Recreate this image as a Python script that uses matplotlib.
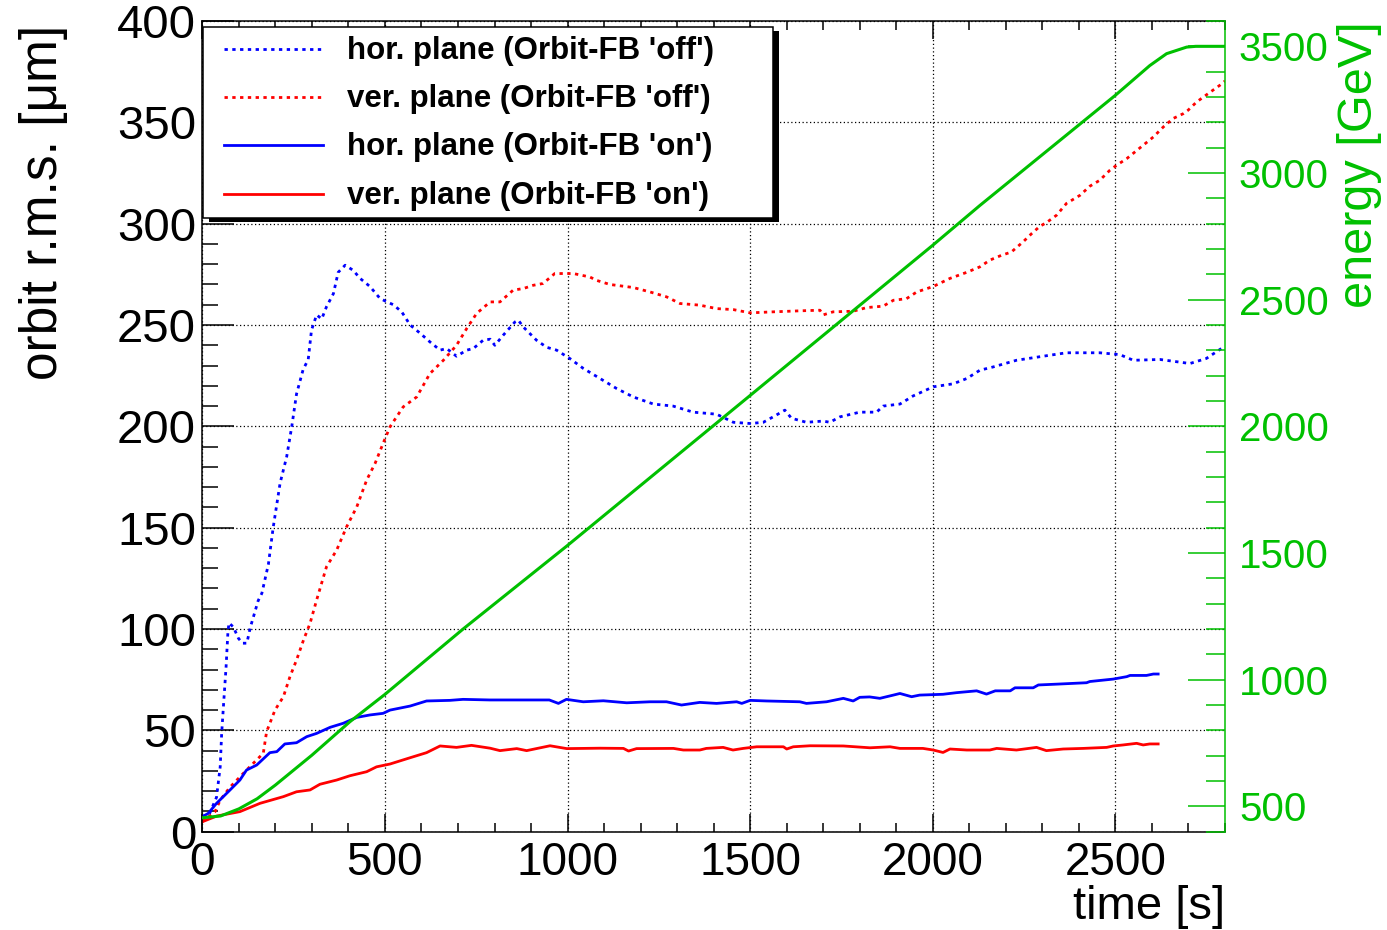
import matplotlib
matplotlib.use("Agg")
import matplotlib.pyplot as plt
from matplotlib.ticker import MultipleLocator
from matplotlib.patches import Rectangle
from matplotlib.lines import Line2D

plt.rcParams['font.family'] = ['Liberation Sans', 'DejaVu Sans']

# ---- data ----
# horizontal plane, orbit feedback off (dotted blue)
t_hor_off = [0, 20, 39, 49, 53, 59, 65, 70, 73, 85,
             99, 110, 122, 131, 153, 163, 181, 194, 213, 231,
             245, 258, 276, 290, 299, 313, 327, 340, 359, 372,
             391, 413, 432, 459, 487, 523, 546, 569, 596, 623,
             651, 669, 696, 724, 742, 769, 788, 801, 824, 856,
             865, 879, 915, 943, 970, 1006, 1043, 1089, 1134, 1180,
             1235, 1289, 1344, 1408, 1454, 1500, 1536, 1563, 1595, 1613,
             1654, 1700, 1718, 1746, 1800, 1846, 1864, 1910, 1946, 2001,
             2056, 2093, 2129, 2165, 2229, 2302, 2366, 2457, 2512, 2549,
             2622, 2704, 2749, 2800]
rms_hor_off = [7.5, 9, 17, 32, 48.5, 65, 81, 98, 103, 101,
               95.4, 93, 93, 100.5, 114, 117.6, 132, 150, 172, 185,
               200, 216, 228, 233, 247.5, 255, 253, 259, 265.5, 276,
               279.5, 277, 273, 269, 263, 260, 256.5, 250, 246, 241.7,
               237.6, 238.4, 234.6, 237.6, 238.4, 242.5, 243, 240, 245, 251.5,
               252.4, 249, 242.5, 239, 237.6, 233.5, 228.6, 223.6, 218.7, 214.5,
               211, 210, 207, 206, 202, 201.4, 202, 204.7, 208, 204,
               202, 202.6, 202, 204.7, 207, 207, 210, 211, 215, 219.5,
               221, 223.6, 227.7, 229.3, 232.6, 234.6, 236.3, 236.3, 235.4, 232.6,
               233, 231, 233.5, 239.6]

# vertical plane, orbit feedback off (dotted red)
t_ver_off = [0, 15, 35, 49, 76, 121, 167, 176, 199, 222,
             240, 258, 277, 295, 313, 340, 368, 395, 423, 450,
             473, 495, 514, 550, 587, 623, 660, 696, 724, 751,
             788, 815, 851, 879, 906, 933, 965, 1016, 1061, 1080,
             1116, 1180, 1226, 1271, 1308, 1362, 1408, 1454, 1500, 1563,
             1636, 1691, 1700, 1727, 1782, 1819, 1864, 1892, 1928, 1956,
             2001, 2047, 2093, 2129, 2156, 2188, 2215, 2247, 2270, 2293,
             2311, 2339, 2366, 2403, 2430, 2457, 2485, 2503, 2531, 2576,
             2604, 2631, 2658, 2686, 2699, 2722, 2754, 2786, 2800]
rms_ver_off = [5, 7, 9.9, 15.6, 22, 30.4, 38.7, 49.3, 60, 66.6,
               76.5, 84.7, 94.5, 102.8, 114.3, 130.7, 139, 150.4, 160.3, 173.5,
               181.7, 191.6, 199.8, 209.6, 214.5, 226, 232.6, 240, 248.3, 255.7,
               261.4, 261.4, 267.2, 268, 269.6, 270.5, 275.4, 275.4, 273.7, 272,
               270, 268.5, 266.3, 263.9, 260.6, 259.8, 258.1, 257.6, 256, 256.5,
               257, 257.3, 255, 256.5, 256.8, 258.6, 259.3, 262.2, 263, 266.3,
               269, 273, 276, 278.7, 282, 284.4, 286, 291, 295, 298.7,
               300.5, 304.2, 310, 314, 318.5, 321.4, 326.4, 328.8, 332.1, 338.7,
               342.8, 347.7, 351.9, 354.3, 356, 360, 364.2, 368.3, 370.4]

# horizontal plane, orbit feedback on (solid blue)
t_hor_on = [0, 16, 39, 76, 103, 121, 149, 185, 204, 226,
            258, 286, 313, 350, 386, 423, 459, 495, 514, 569,
            614, 678, 714, 787, 880, 950, 975, 997, 1043, 1098,
            1162, 1226, 1271, 1312, 1362, 1408, 1463, 1477, 1500, 1545,
            1636, 1654, 1709, 1755, 1782, 1800, 1827, 1855, 1892, 1910,
            1942, 1964, 2028, 2065, 2120, 2147, 2171, 2212, 2225, 2275,
            2289, 2339, 2421, 2430, 2494, 2531, 2540, 2585, 2604, 2617]
rms_hor_on = [7.4, 9, 14, 20.6, 25.5, 30.4, 32.9, 39, 39.5, 43.3,
              43.9, 46.9, 48.5, 51.5, 53.5, 56.4, 57.6, 58.4, 60, 62,
              64.5, 64.8, 65.3, 65, 65, 65, 63.3, 65.3, 64.1, 64.6,
              63.6, 64.1, 64.1, 62.5, 63.8, 63.3, 64.1, 63.3, 64.8, 64.5,
              64.1, 63.3, 64.1, 65.8, 64.5, 66.3, 66.5, 65.8, 67.4, 68.2,
              66.6, 67.4, 67.8, 68.6, 69.5, 67.9, 69.5, 69.5, 71, 71,
              72.4, 72.8, 73.5, 74.1, 75.3, 76.5, 77.1, 77.1, 77.8, 77.8]

# vertical plane, orbit feedback on (solid red)
t_ver_on = [0, 39, 103, 158, 222, 258, 295, 322, 368, 404,
            450, 477, 514, 569, 614, 651, 696, 737, 788, 815,
            861, 888, 952, 998, 1089, 1153, 1167, 1189, 1290, 1317,
            1362, 1380, 1426, 1453, 1481, 1518, 1591, 1600, 1618, 1664,
            1755, 1828, 1883, 1910, 1973, 2001, 2028, 2047, 2093, 2156,
            2175, 2229, 2284, 2311, 2357, 2412, 2476, 2494, 2521, 2558,
            2576, 2594, 2617]
rms_ver_on = [4.9, 7.7, 9.9, 14, 17.3, 19.7, 20.6, 23.4, 25.5, 27.6,
              29.6, 32, 33.4, 36.5, 39, 42.3, 41.6, 42.6, 41.2, 40,
              41, 40, 42.4, 41, 41.2, 41.1, 39.8, 41, 41.1, 40.3,
              40.3, 41.1, 41.6, 40.3, 41.1, 41.9, 41.9, 40.8, 41.9, 42.4,
              42.3, 41.4, 41.9, 41.1, 41.1, 40.3, 39.1, 40.8, 40.3, 40.3,
              41.1, 40.3, 41.6, 40, 40.8, 41.1, 41.6, 42.3, 42.8, 43.6,
              42.8, 43.3, 43.3]

# beam energy (green, right axis)
t_energy = [0, 50, 100, 150, 200, 300, 404, 500, 714, 1000,
            1500, 2000, 2129, 2500, 2594, 2640, 2695, 2720, 2800]
energy = [455, 462, 490, 530, 584, 702, 834, 942, 1200, 1530,
          2122, 2715, 2872, 3307, 3424, 3471, 3497, 3500, 3500]

legend_labels = ["hor. plane (Orbit-FB 'off')", "ver. plane (Orbit-FB 'off')",
                 "hor. plane (Orbit-FB 'on')", "ver. plane (Orbit-FB 'on')"]

# ---- styles ----
W, H = 1387, 930
green = '#00C000'
dotted = (0, (1.2, 1.6))
series = [
    (t_hor_off, rms_hor_off, 'blue', dotted),
    (t_ver_off, rms_ver_off, 'red', dotted),
    (t_hor_on, rms_hor_on, 'blue', '-'),
    (t_ver_on, rms_ver_on, 'red', '-'),
]

fig = plt.figure(figsize=(W / 100, H / 100), dpi=100)
ax = fig.add_axes([202.3 / W, (H - 831.7) / H, (1225 - 202.3) / W, (831.7 - 21) / H])

for t, v, c, ls in series:
    ax.plot(t, v, color=c, linestyle=ls, lw=2)

ax.set_xlim(0, 2800)
ax.set_ylim(0, 400)
ax.xaxis.set_major_locator(MultipleLocator(500))
ax.xaxis.set_minor_locator(MultipleLocator(100))
ax.yaxis.set_major_locator(MultipleLocator(50))
ax.yaxis.set_minor_locator(MultipleLocator(10))
ax.tick_params(axis='x', which='both', direction='in', top=True, width=1.1,
               labelsize=33, pad=7)
ax.tick_params(axis='x', which='major', length=13)
ax.tick_params(axis='x', which='minor', length=6.5)
ax.tick_params(axis='y', which='both', direction='in', right=False, width=1.1,
               labelsize=34, pad=4.5)
ax.tick_params(axis='y', which='major', length=23)
ax.tick_params(axis='y', which='minor', length=11.5)
ax.grid(which='major', color='black', linestyle=(0, (1, 2)), linewidth=0.9)
ax.spines['right'].set_visible(False)
for s in ['left', 'bottom', 'top']:
    ax.spines[s].set_linewidth(1.1)

ax.set_xlabel('time [s]', fontsize=34, loc='right')
ax.xaxis.set_label_coords(1.0, -0.066)
ax.set_ylabel('orbit r.m.s. [μm]', fontsize=37, loc='top')
ax.yaxis.set_label_coords(-0.131, 0.995)

# energy on the right axis
ax2 = ax.twinx()
ax2.plot(t_energy, energy, color=green, lw=2.2)
ax2.set_ylim(400, 3600)
ax2.yaxis.set_major_locator(MultipleLocator(500))
ax2.yaxis.set_minor_locator(MultipleLocator(100))
ax2.tick_params(axis='y', which='both', direction='in', color=green,
                labelcolor=green, width=1.1, labelsize=29, pad=10)
ax2.tick_params(axis='y', which='major', length=26.6)
ax2.tick_params(axis='y', which='minor', length=13.7)
for s in ['left', 'bottom', 'top']:
    ax2.spines[s].set_visible(False)
ax2.spines['right'].set_color(green)
ax2.spines['right'].set_linewidth(1.1)
ax2.set_ylabel('energy [GeV]', fontsize=35, color=green, loc='top')
ax2.yaxis.set_label_coords(1.11, 1.0)

# ROOT-style legend box with a hard shadow
def fx(px):
    return px / W

def fy(py):
    return 1 - py / H

x0, y0, x1, y1 = 203.3, 26.7, 773.3, 218.3
fig.add_artist(Rectangle((fx(x0 + 6), fy(y1 + 4)), fx(x1 - x0), (y1 - y0) / H,
                         transform=fig.transFigure, fc='black', ec='black',
                         lw=0, zorder=9))
fig.add_artist(Rectangle((fx(x0), fy(y1)), fx(x1 - x0), (y1 - y0) / H,
                         transform=fig.transFigure, fc='white', ec='black',
                         lw=1.1, zorder=10))
rows = [49, 97.3, 145.3, 194]
for (t, v, c, ls), label, yc in zip(series, legend_labels, rows):
    fig.add_artist(Line2D([fx(224.3), fx(323.3)], [fy(yc), fy(yc)],
                          transform=fig.transFigure, color=c, linestyle=ls,
                          lw=2, zorder=11))
    fig.text(fx(346.7), fy(yc + 2), label, fontsize=22.5, fontweight='bold',
             va='center', ha='left', zorder=11)

fig.savefig('out.png', dpi=100)
